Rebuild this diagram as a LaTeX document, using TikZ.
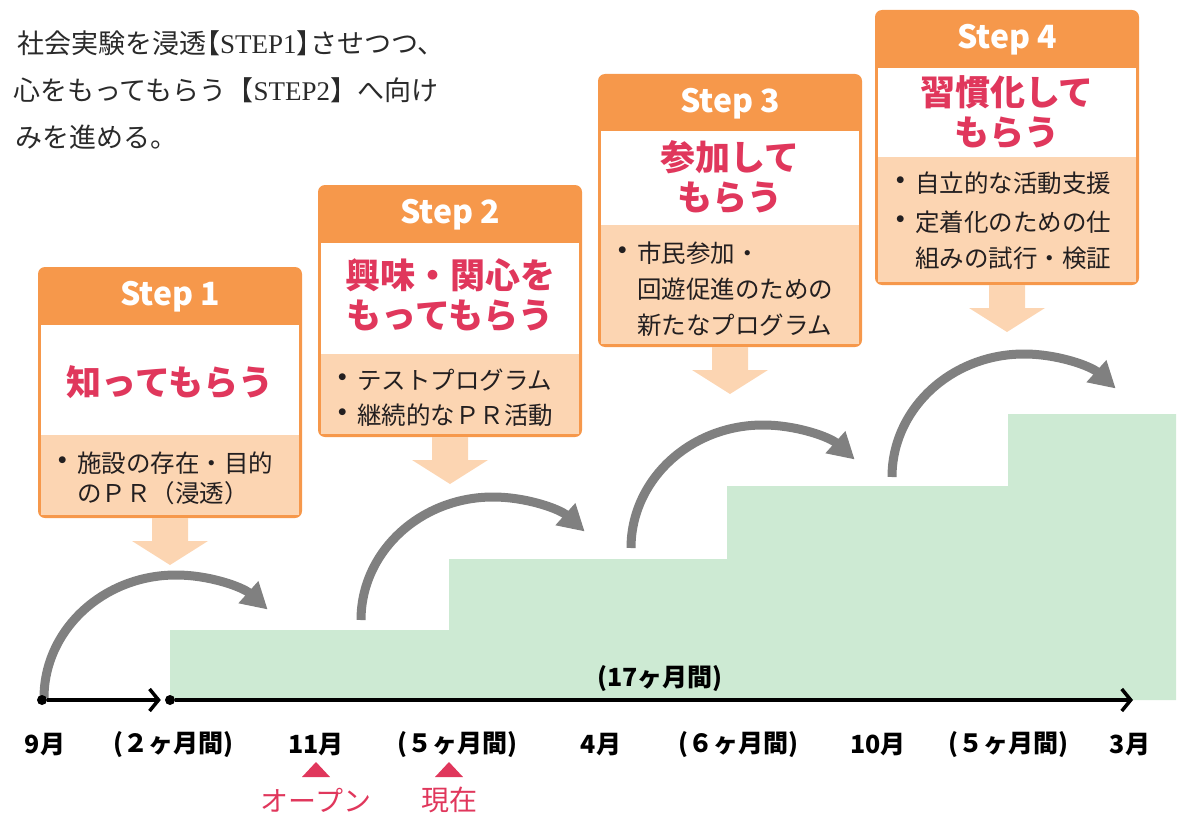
\documentclass[tikz,border=0pt]{standalone}
\usepackage{fontspec}
\setmainfont{Noto Sans CJK JP}
\newfontfamily\lser{Liberation Serif}
\usetikzlibrary{arrows.meta}
\definecolor{ora}{HTML}{F6984B}
\definecolor{peach}{HTML}{FCD5B2}
\definecolor{redc}{HTML}{E0375C}
\definecolor{greenc}{HTML}{CDEAD3}
\definecolor{grayc}{HTML}{808080}
\definecolor{darkc}{HTML}{231F20}
\definecolor{topc}{HTML}{2A2A2A}
\tikzset{
  stephdr/.style={text=white, inner sep=0pt, font=\bfseries\fontsize{32}{32}\selectfont},
  steptitle/.style={text=redc, inner sep=0pt, align=center, font=\bfseries\fontsize{35}{40}\selectfont},
  bullet/.style={text=darkc, inner sep=0pt, font=\bfseries\fontsize{24.5}{24.5}\selectfont},
  btext/.style={text=darkc, inner sep=0pt, anchor=west, font=\fontsize{24.5}{24.5}\selectfont},
  toptext/.style={text=topc, inner sep=0pt, anchor=west, font=\fontsize{27}{27}\selectfont},
  tlabel/.style={text=black, inner sep=0pt, font=\bfseries\fontsize{25}{25}\selectfont},
  redlabel/.style={text=redc, inner sep=0pt, font=\fontsize{28}{28}\selectfont},
  dotc/.style={circle, fill=black, inner sep=0pt, minimum size=10pt},
  axisc/.style={line width=3.5pt, -{Straight Barb[length=9pt,width=22pt]}},
  grayarc/.style={draw=grayc, line width=9pt, -{Triangle[length=26pt,width=28pt]}},
  peacharrow/.style={fill=peach},
}
\newcommand{\mkstep}[7]{%
  \fill[ora, rounded corners=7pt] (#2-132,#3) rectangle (#2+132,#6);
  \fill[white] (#2-129,#4) rectangle (#2+129,#5);
  \fill[peach] (#2-129,#5) rectangle (#2+129,#6-3);
  \node[stephdr] (#1h) at (#2,{(#3+#4)/2+1}) {Step #7};
  \fill[peacharrow] (#2-18,#6) -- (#2-18,#6+23) -- (#2-38,#6+23) -- (#2,#6+47)
     -- (#2+38,#6+23) -- (#2+18,#6+23) -- (#2+18,#6) -- cycle;
}
\begin{document}
\begin{tikzpicture}[x=1pt,y=-1pt]
\useasboundingbox (0,0) rectangle (1182,813);
% top-left text
\node[toptext] (t1) at (17,43) {社会実験を浸透\kern-13pt【{\lser STEP1}】\kern-13pt させつつ、};
\node[toptext] (t2) at (13,90) {心をもってもらう【{\lser STEP2}】へ向け};
\node[toptext] (t3) at (15,137) {みを進める。};
% green steps
\fill[greenc] (170,700) -- (170,630) -- (449,630) -- (449,559) -- (727,559)
  -- (727,486) -- (1008,486) -- (1008,414) -- (1176,414) -- (1176,700) -- cycle;
% step boxes
\mkstep{s1}{170}{267}{325}{435}{518}{1}
\mkstep{s2}{450}{185}{243}{354}{437}{2}
\mkstep{s3}{730}{74}{131}{225}{347}{3}
\mkstep{s4}{1007}{10}{68}{157}{285}{4}
% titles
\node[steptitle] (s1t) at (170,382) {知ってもらう};
\node[steptitle] (s2t) at (450,295) {興味・関心を\\もってもらう};
\node[steptitle] (s3t) at (730,177) {参加して\\もらう};
\node[steptitle] (s4t) at (1007,112) {習慣化して\\もらう};
% bullets
\node[bullet] (s1b1) at (63,463) {・};
\node[btext] (s1x1) at (77,463) {施設の存在・目的};
\node[btext] (s1x2) at (77,493) {のＰＲ（浸透）};
\node[bullet] (s2b1) at (343,380) {・};
\node[btext] (s2x1) at (357,380) {テストプログラム};
\node[bullet] (s2b2) at (343,415) {・};
\node[btext] (s2x2) at (357,415) {継続的なＰＲ活動};
\node[bullet] (s3b1) at (623,253) {・};
\node[btext] (s3x1) at (637,253) {市民参加・};
\node[btext] (s3x2) at (637,289) {回遊促進のための};
\node[btext] (s3x3) at (637,325) {新たなプログラム};
\node[bullet] (s4b1) at (901,183) {・};
\node[btext] (s4x1) at (915,183) {自立的な活動支援};
\node[bullet] (s4b2) at (901,222) {・};
\node[btext] (s4x2) at (915,222) {定着化のための仕};
\node[btext] (s4x3) at (915,258) {組みの試行・検証};
% gray arcs
\draw[grayarc] (44,698) arc[start angle=180, end angle=314, x radius=132, y radius=123];
\draw[grayarc] (361,620) arc[start angle=180, end angle=314, x radius=132, y radius=123];
\draw[grayarc] (631,548) arc[start angle=180, end angle=314, x radius=132, y radius=123];
\draw[grayarc] (892,477) arc[start angle=180, end angle=314, x radius=132, y radius=123];
% axis
\node[dotc] (d0) at (42,700) {};
\node[dotc] (d1) at (170,700) {};
\coordinate (axend) at (1133,700);
\draw[axisc, shorten >=4pt] (d0) -- (d1);
\draw[axisc] (d1) -- (axend);
\node[tlabel] (l17) at (660,679) {(17ヶ月間)};
% timeline labels
\node[tlabel] (m9) at (45,745) {9月};
\node[tlabel] (p2) at (173,745) {(２ヶ月間)};
\node[tlabel] (m11) at (316,745) {11月};
\node[tlabel] (p5a) at (457,745) {(５ヶ月間)};
\node[tlabel] (m4) at (601,745) {4月};
\node[tlabel] (p6) at (738,745) {(６ヶ月間)};
\node[tlabel] (m10) at (878,745) {10月};
\node[tlabel] (p5b) at (1008,745) {(５ヶ月間)};
\node[tlabel] (m3) at (1130,745) {3月};
% red markers
\fill[redc] (302,777) -- (330,777) -- (316,762) -- cycle;
\fill[redc] (435,777) -- (463,777) -- (449,762) -- cycle;
\node[redlabel] (open) at (316,800) {オープン};
\node[redlabel] (now) at (449,800) {現在};
\end{tikzpicture}
\end{document}
